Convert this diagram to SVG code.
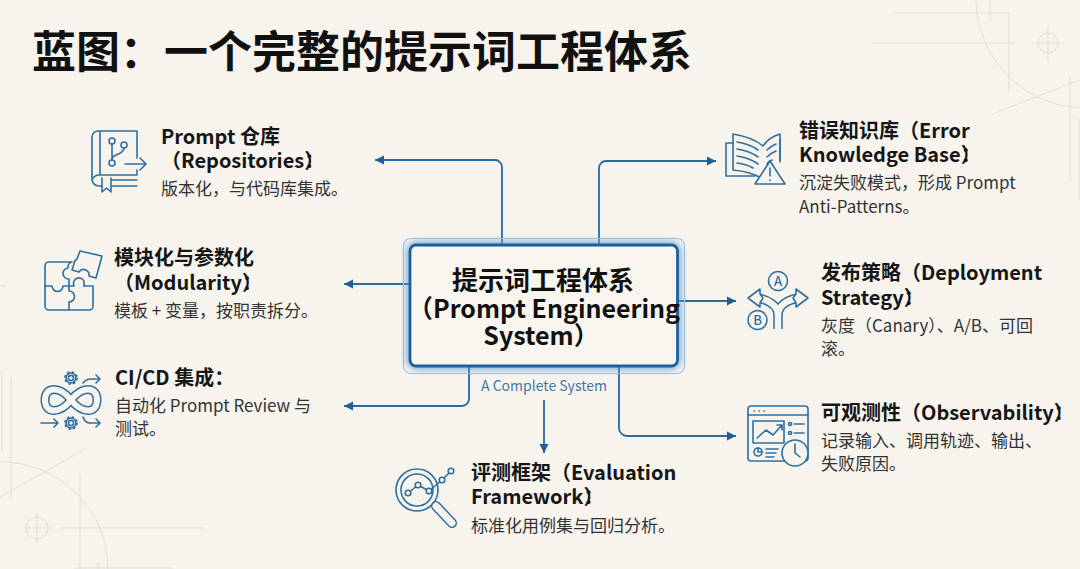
<svg xmlns="http://www.w3.org/2000/svg" width="1080" height="569" viewBox="0 0 1080 569">
<style>
text{font-family:"Noto Sans CJK SC","Noto Sans",sans-serif}
.title{font-size:44px;font-weight:700;fill:#111}
.h{font-size:20px;font-weight:700;fill:#161616}
.b{font-size:17px;font-weight:400;fill:#333}
.c{font-size:26px;font-weight:700;fill:#111;text-anchor:middle}
.sub{font-size:14px;fill:#3f78a8;text-anchor:middle}
.bg{fill:none;stroke:#e3dfd6;stroke-width:1}
.conn{fill:none;stroke:#2a6a9f;stroke-width:1.8}
.i{fill:none;stroke:#2f6f9f;stroke-width:1.6;stroke-linecap:round;stroke-linejoin:round}
.ibg{fill:#f7f4ee;stroke:#2f6f9f;stroke-width:1.6;stroke-linejoin:round}
</style>
<defs>
<marker id="ah" markerUnits="userSpaceOnUse" markerWidth="10" markerHeight="10" refX="9" refY="5" orient="auto"><path d="M0 0.5L9 5L0 9.5z" fill="#1f5f95"/></marker>
<filter id="glow" x="-15%" y="-20%" width="130%" height="140%"><feGaussianBlur stdDeviation="3.5"/></filter>
<g id="gear"><circle r="5.6" fill="none" stroke="#2f6f9f" stroke-width="2.6" stroke-dasharray="2.2 2.2"/><circle r="5" class="i"/><circle r="2.6" class="i"/></g>
</defs>
<rect width="1080" height="569" fill="#f7f4ee"/>
<g id="background">
<path class="bg" d="M892 13H1010M1009 13V92M872 43H1015M990 0V22M976 0A110 110 0 0 0 1080 108M1032 43H1064M1048 28V60M992 114L1080 80M1070 75V182M1079 118V200"/>
<circle class="bg" cx="1048" cy="43" r="10"/>
<path class="bg" d="M2 370V453M11 377V500M0 497L87 448M0 462A107 107 0 0 1 108 569M80 474V569M60 528H204M24 528H52M37 513V543M74 568H173M98 562V569M0 286H6"/>
<circle class="bg" cx="37" cy="528" r="11"/>
</g>
<text class="title" x="32" y="68">蓝图：一个完整的提示词工程体系</text>
<g id="connectors">
<path class="conn" marker-end="url(#ah)" d="M502 244V167a7 7 0 0 0 -7 -7H375"/>
<path class="conn" marker-end="url(#ah)" d="M599 244V168a7 7 0 0 1 7 -7H716"/>
<path class="conn" marker-end="url(#ah)" d="M410 284H344"/>
<path class="conn" marker-end="url(#ah)" d="M678 301H736"/>
<path class="conn" marker-end="url(#ah)" d="M469 366V399a7 7 0 0 1 -7 7H344"/>
<path class="conn" marker-end="url(#ah)" d="M619 366V428a8 8 0 0 0 8 8H736"/>
<path class="conn" marker-end="url(#ah)" d="M544 400V453"/>
</g>
<g id="center">
<rect x="403.500" y="238.500" width="281" height="135" rx="7" fill="none" stroke="#a9c4da" stroke-width="1.200"/>
<rect x="410" y="245" width="267.500" height="121" rx="6" fill="none" stroke="#5f9fd6" stroke-width="6" filter="url(#glow)"/>
<rect x="410" y="245" width="267.500" height="121" rx="6" fill="#f8f5ef" stroke="#1f5f99" stroke-width="2.800"/>
<text class="c" x="543" y="290">提示词工程体系</text>
<text class="c" x="544" y="318" style="font-size:25px">（Prompt Engineering</text>
<text class="c" x="541" y="345" style="font-size:25px">System）</text>
<text class="sub" x="544" y="391">A Complete System</text>
</g>
<g id="repo">
<path class="i" d="M137 131H98a6 6 0 0 0 -6 6V178a7 7 0 0 0 7 8h3M100 131V175M137 131V158M137 170V175H100a8 8 0 0 0 -8 5M112 180H137M112 186H137"/>
<path class="i" d="M102 178V192L106.500 188L111 192V178"/>
<circle class="i" cx="112" cy="141" r="3"/><circle class="i" cx="112" cy="163" r="3"/><circle class="i" cx="124" cy="145" r="3"/>
<path class="i" d="M112 144V160M124 148c0 7 -12 6 -12 11M125 164H146M140 158L146 164L140 170"/>
<text class="h" x="161" y="144">Prompt 仓库</text>
<text class="h" x="161" y="168">（Repositories）<tspan dx="-10">：</tspan></text>
<text class="b" x="161" y="195">版本化，与代码库集成。</text>
</g>
<g id="modularity">
<path class="i" d="M71 262H49a4 4 0 0 0 -4 4V306a4 4 0 0 0 4 4H89a4 4 0 0 0 4 -4V286H84"/>
<path class="i" d="M45 286H52a5.500 5.500 0 0 0 11 0H69M69 310V302a5 5 0 0 0 0 -11V286M69 286H74a5 5 0 0 1 10 -5V286M69 286V279a5 5 0 0 1 -1 -11a5 5 0 0 1 4 -6"/>
<path class="i" d="M80 251L102 256L96 278L89 276a5.500 5.500 0 0 0 -10 -4L72 270L74 264a5.500 5.500 0 0 1 3 -5z"/>
<text class="h" x="114" y="265">模块化与参数化</text>
<text class="h" x="114" y="290">（Modularity）<tspan dx="-10">：</tspan></text>
<text class="b" x="114" y="317">模板 + 变量，按职责拆分。</text>
</g>
<g id="cicd">
<path d="M71 400C60 386 45 386 45 400S60 414 71 400S97 386 97 400S82 414 71 400" fill="none" stroke="#2f6f9f" stroke-width="9"/>
<path d="M71 400C60 386 45 386 45 400S60 414 71 400S97 386 97 400S82 414 71 400" fill="none" stroke="#f7f4ee" stroke-width="6"/>
<use href="#gear" x="71" y="378"/><use href="#gear" x="71" y="423"/>
<path class="i" d="M83 383q3 -4 8 -4H100M96 375L100 379L96 383M41 423H58M54 419L58 423L54 427M83 417q2 6 7 6H100M96 419L100 423L96 427"/>
<text class="h" x="115" y="385">CI/CD 集成：</text>
<text class="b" x="115" y="412">自动化 Prompt Review 与</text>
<text class="b" x="115" y="435">测试。</text>
</g>
<g id="errors">
<path class="i" d="M763 146C755 139 745 136 733 134V170C745 171 755 174 763 179C767 175 770 173 775 171M763 146C767 140 773 136 780 134V162"/>
<path class="i" d="M733 143H726V176H755M780 140V160"/>
<path class="i" d="M737 142Q750 144 758 150M737 149Q750 151 758 157M737 156Q750 158 758 164M737 163Q746 164 753 168M767 150Q771 146 776 144M767 157Q771 153 776 151M767 164Q769 161 772 160"/>
<path class="ibg" d="M770 161L785 184H755z"/>
<path class="i" d="M770 168V176M770 180V180.500"/>
<text class="h" x="799" y="138">错误知识库（Error</text>
<text class="h" x="799" y="162">Knowledge Base）<tspan dx="-10">：</tspan></text>
<text class="b" x="799" y="189">沉淀失败模式，形成 Prompt</text>
<text class="b" x="799" y="213">Anti-Patterns。</text>
</g>
<g id="deployment">
<circle class="i" cx="778" cy="281" r="9.500"/><circle class="i" cx="757.500" cy="320" r="9.500"/>
<text x="778" y="286" text-anchor="middle" style="font-size:13px;fill:#2f6f9f;font-weight:500">A</text>
<text x="757.500" y="325" text-anchor="middle" style="font-size:13px;fill:#2f6f9f;font-weight:500">B</text>
<path d="M778 329V315C778 305 768 300 758 298M778 329V315C778 305 788 300 798 298" fill="none" stroke="#2f6f9f" stroke-width="9.500"/>
<path d="M778 330V315C778 305 768 300 758 298M778 330V315C778 305 788 300 798 298" fill="none" stroke="#f7f4ee" stroke-width="6.500"/>
<path class="ibg" d="M748 298L760 289V294L763 298L760 303V307z"/>
<path class="ibg" d="M808 298L796 289V294L793 298L796 303V307z"/>
<text class="h" x="821" y="280">发布策略（Deployment</text>
<text class="h" x="821" y="305">Strategy）<tspan dx="-10">：</tspan></text>
<text class="b" x="821" y="332">灰度（Canary）、A/B、可回</text>
<text class="b" x="821" y="355">滚。</text>
</g>
<g id="observability">
<rect class="i" x="748" y="406" width="60" height="55" rx="3"/>
<path class="i" d="M748 415H808"/>
<path class="i" d="M754 411h.5M759 411h.5M764 411h.5"/>
<rect class="i" x="753" y="421" width="31" height="22"/>
<path class="i" d="M757 438L766 430L773 435L782 425M777 425H782V430"/>
<circle class="i" cx="790" cy="424" r="1.500"/><circle class="i" cx="790" cy="433" r="1.500"/>
<path class="i" d="M794 424H804M794 433H804M766 449H778M766 453H776M766 457H774"/>
<circle class="i" cx="758" cy="452" r="4"/><path class="i" d="M758 448V452H762"/>
<circle class="ibg" cx="795" cy="453" r="13"/>
<path class="i" d="M795 444V453L800 457"/>
<text class="h" x="821" y="420">可观测性（Observability）<tspan dx="-10">：</tspan></text>
<text class="b" x="821" y="447">记录输入、调用轨迹、输出、</text>
<text class="b" x="821" y="470">失败原因。</text>
</g>
<g id="evaluation">
<circle class="i" cx="417" cy="490" r="21"/><circle class="i" cx="417" cy="490" r="16"/>
<path class="i" d="M408 493L418 485L429 491L442 480L451 471"/>
<circle class="ibg" cx="408" cy="493" r="2.800"/><circle class="ibg" cx="418" cy="485" r="2.800"/><circle class="ibg" cx="429" cy="491" r="2.800"/><circle class="ibg" cx="442" cy="480" r="2.800"/><circle class="ibg" cx="451" cy="471" r="2.800"/>
<path d="M436 506L452 523" fill="none" stroke="#2f6f9f" stroke-width="10" stroke-linecap="round"/>
<path d="M436 506L452 523" fill="none" stroke="#f7f4ee" stroke-width="7" stroke-linecap="round"/>
<text class="h" x="471" y="480">评测框架（Evaluation</text>
<text class="h" x="471" y="504">Framework）<tspan dx="-10">：</tspan></text>
<text class="b" x="471" y="532">标准化用例集与回归分析。</text>
</g>
</svg>
